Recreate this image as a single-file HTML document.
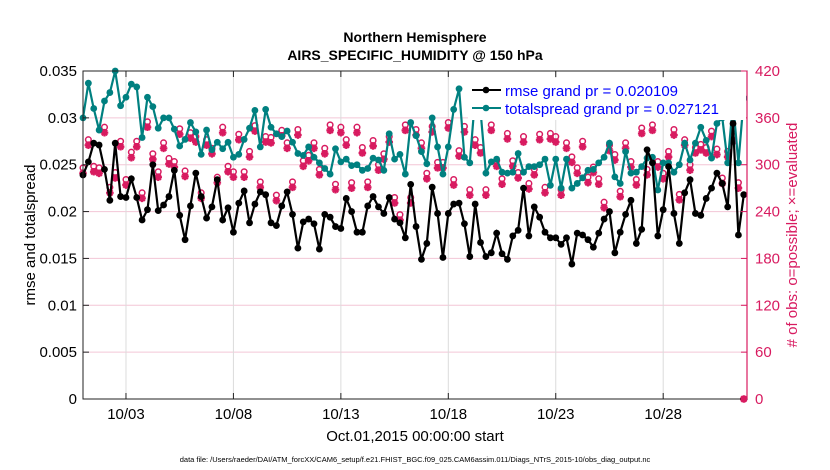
<!DOCTYPE html>
<html><head><meta charset="utf-8"><style>
body{margin:0;background:#fff;}
svg{display:block;font-family:"Liberation Sans",Arial,sans-serif;}
</style></head><body>
<svg id="chart" width="830" height="470" viewBox="0 0 830 470">
<rect width="830" height="470" fill="#fff"/>
<g id="grid"></g>
<g id="series"></g>
<g id="axes"></g>
<text x="415" y="42" text-anchor="middle" font-size="14" font-weight="bold">Northern Hemisphere</text>
<text x="415" y="60" text-anchor="middle" font-size="14" font-weight="bold">AIRS_SPECIFIC_HUMIDITY @ 150 hPa</text>
<text transform="translate(35,235) rotate(-90)" text-anchor="middle" font-size="15">rmse and totalspread</text>
<text transform="translate(797,235) rotate(-90)" text-anchor="middle" font-size="15" fill="#d81b60"># of obs: o=possible; ×=evaluated</text>
<text x="415" y="441" text-anchor="middle" font-size="15">Oct.01,2015 00:00:00 start</text>
<text x="415" y="462" text-anchor="middle" font-size="7.5">data file: /Users/raeder/DAI/ATM_forcXX/CAM6_setup/f.e21.FHIST_BGC.f09_025.CAM6assim.011/Diags_NTrS_2015-10/obs_diag_output.nc</text>
<g>
<rect x="468" y="78" width="278" height="42" fill="#fff"/>
<g>
<line x1="472" y1="90" x2="501" y2="90" stroke="#000" stroke-width="2"/>
<circle cx="486" cy="90" r="3.3" fill="#000"/>
<text x="505" y="96" font-size="15" fill="#0000ff">rmse grand pr = 0.020109</text></g>
<g>
<line x1="472" y1="108" x2="501" y2="108" stroke="#008080" stroke-width="2"/>
<circle cx="486" cy="108" r="3.3" fill="#008080"/>
<text x="505" y="114" font-size="15" fill="#0000ff">totalspread grand pr = 0.027121</text></g>
</g>
</svg>
<script>
const rmse=[.0239,.0253,.0273,.0271,.0245,.0212,.0273,.0216,.0215,.0235,.0215,.0191,.0202,.0250,.0201,.0207,.0216,.0244,.0196,.0170,.0206,.0241,.0216,.0193,.0205,.0234,.0191,.0204,.0178,.0209,.0222,.0188,.0208,.0221,.0218,
.0188,.0185,.0206,.0221,.0197,.0161,.0189,.0192,.0187,.0160,.0197,.0194,.0184,.0182,.0214,.0200,.0178,.0178,.0206,.0216,.0205,.0198,.0215,.0192,.0188,.0172,.0229,.0184,.0149,.0166,.0226,
.0198,.0151,.0198,.0208,.0209,.0187,.0152,.0208,.0167,.0152,.0156,.0177,.0155,.0149,.0174,.0180,.0225,.0174,.0205,.0194,.0178,.0172,.0172,.0165,.0172,.0144,.0177,.0175,.0170,
.0162,.0177,.0192,.0200,.0156,.0178,.0197,.0212,.0166,.0181,.0266,.0252,.0174,.0202,.0248,.0198,.0166,.0220,.0234,.0198,.0196,.0214,.0225,.0241,.0230,.0205,.0294,.0175,.0218];
const spread=[.030,.0337,.031,.0287,.0318,.0327,.035,.0313,
.0322,.0336,.0333,.0279,.0322,.0312,.0289,.030,.030,.0288,.027,.0277,.0295,.0285,.0261,.0287,.0266,.0274,.0267,.0274,.0258,.0261,.0277,.0289,.0308,.0269,.0309,
.029,.0283,.028,.0286,.0274,.0262,.026,.0269,.0258,.0252,.0246,.024,.0267,.0253,.0256,.0249,.025,.0244,.0246,.0257,.0255,.0244,.0283,.0256,.0261,.024,.0295,.0281,.0264,.0251,.030,
.0269,.024,.0269,.0309,.0331,.0258,.0252,.0323,.0308,.0241,.0253,.0256,.0242,.0241,.0242,.0262,.0242,.0248,.0248,.025,.0256,.0228,.0256,.0225,.0256,.0225,.023,.0236,.0244,
.0245,.0252,.0258,.0273,.0237,.023,.0264,.0241,.0242,.0248,.0257,.0258,.0223,.0252,.0252,.0242,.025,.0273,.0255,.0273,.029,.0276,.0257,.0294,.030,.0252,.0316,.0252,.0321];
const evaluated=[289,325,291,289,341,264,283,323,
274,309,323,257,348,307,284,321,301,297,339,285,334,329,257,325,314,277,341,291,284,332,284,310,343,271,329,
328,254,337,321,271,338,298,305,321,287,314,344,268,341,325,270,341,315,271,324,293,307,329,251,229,344,251,338,321,282,342,
296,296,347,274,311,342,261,325,315,261,344,298,275,333,298,283,329,269,287,332,264,333,329,261,321,303,289,323,277,
290,275,245,318,306,259,321,297,274,340,287,344,297,282,310,338,255,325,293,315,319,315,336,313,276,310,330,270,0];
const possible=[296,332,298,296,348,271,290,330,
281,316,330,264,355,314,291,328,308,304,346,292,341,336,264,332,321,284,348,298,291,339,291,317,350,278,336,
335,261,344,328,278,345,305,312,328,294,321,351,275,348,332,277,348,322,278,331,300,314,336,258,236,351,258,345,328,289,349,
303,303,354,281,318,349,268,332,322,268,351,305,282,340,305,290,336,276,294,339,271,340,336,268,328,310,296,330,284,
297,282,252,325,313,266,328,304,281,347,294,351,304,289,317,345,262,332,300,322,326,322,343,320,283,317,337,277,0];
const xTickLabels=["10/03","10/08","10/13","10/18","10/23","10/28"];
const xTickDays=[2,7,12,17,22,27];
const yTicks=[0,0.005,0.01,0.015,0.02,0.025,0.03,0.035];
const yTickLabels=["0","0.005","0.01","0.015","0.02","0.025","0.03","0.035"];
const rTicks=[0,60,120,180,240,300,360,420];
const stepDays=0.25;

const L=83,R=747,T=71,B=399,DMAX=30.9;
const X=d=>L+d/DMAX*(R-L);
const Y=v=>B-v/0.035*(B-T);
const YR=c=>B-c/420*(B-T);
const NS="http://www.w3.org/2000/svg";
function mk(tag,attrs,parent){const e=document.createElementNS(NS,tag);for(const k in attrs)e.setAttribute(k,attrs[k]);parent.appendChild(e);return e;}
const grid=document.getElementById('grid'),ser=document.getElementById('series'),ax=document.getElementById('axes');
const MAG="#d81b60";
// grid
yTicks.forEach((v,i)=>{if(i>0&&i<yTicks.length-1){const g=mk('line',{x1:L,x2:R,y1:Y(v),y2:Y(v),stroke:"#f3c6d6","stroke-width":1},grid);

}});
xTickDays.forEach(d=>{const g=mk('line',{x1:X(d),x2:X(d),y1:T,y2:B,stroke:"#dcdcdc","stroke-width":1},grid);

});
// series lines
function line(vals,color,name){const pts=vals.map((v,i)=>X(i*stepDays).toFixed(1)+","+Y(v).toFixed(1)).join(" ");
const g=mk('g',{},ser);


mk('polyline',{points:pts,fill:"none",stroke:color,"stroke-width":2.2},g);
vals.forEach((v,i)=>{const c=mk('circle',{cx:X(i*stepDays),cy:Y(v),r:3.4,fill:color},g);

});}
// counts
const cg=mk('g',{},ser);


possible.forEach((c,i)=>{const m=mk('circle',{cx:X(i*stepDays),cy:YR(c),r:2.8,fill:"none",stroke:MAG,"stroke-width":1.5},cg);

});
evaluated.forEach((c,i)=>{const x=X(i*stepDays),y=YR(c),s=3.8,s2=2.7;
const p=mk('path',{d:`M${x-s},${y}H${x+s}M${x},${y-s}V${y+s}M${x-s2},${y-s2}L${x+s2},${y+s2}M${x-s2},${y+s2}L${x+s2},${y-s2}`,stroke:MAG,"stroke-width":2.2,fill:"none"},cg);

});
line(spread,"#008080","totalspread-series");
line(rmse,"#000","rmse-series");
// axes
mk('rect',{x:L,y:T,width:R-L,height:B-T,fill:"none",stroke:"#222","stroke-width":1},ax);
mk('line',{x1:R,x2:R,y1:T,y2:B,stroke:MAG,"stroke-width":1.2},ax);
yTicks.forEach((v,i)=>{mk('line',{x1:L,x2:L+6,y1:Y(v),y2:Y(v),stroke:"#222"},ax);
const t=mk('text',{x:L-6,y:Y(v)+5,"text-anchor":"end","font-size":15},ax);t.textContent=yTickLabels[i];

});
rTicks.forEach(c=>{mk('line',{x1:R-6,x2:R,y1:YR(c),y2:YR(c),stroke:MAG},ax);
const t=mk('text',{x:R+8,y:YR(c)+5,"font-size":15,fill:MAG},ax);t.textContent=c;

});
xTickDays.forEach((d,i)=>{mk('line',{x1:X(d),x2:X(d),y1:B,y2:B-6,stroke:"#222"},ax);mk('line',{x1:X(d),x2:X(d),y1:T,y2:T+6,stroke:"#222"},ax);
const t=mk('text',{x:X(d),y:B+20,"text-anchor":"middle","font-size":15},ax);t.textContent=xTickLabels[i];

});
</script>
</body></html>
